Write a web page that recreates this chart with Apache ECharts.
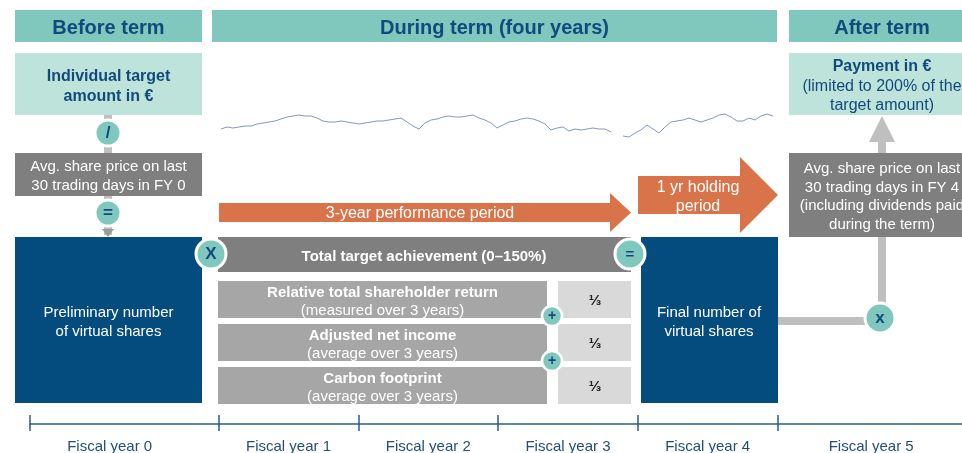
<!DOCTYPE html>
<html>
<head>
<meta charset="utf-8">
<script src="https://cdn.jsdelivr.net/npm/echarts@6/dist/echarts.min.js"></script>
<style>html,body{margin:0;padding:0;background:#fff}#c{width:962px;height:453px}</style>
</head>
<body>
<div id="c"></div>
<script>
// ---- content / data ----
const phaseTitles = ['Before term', 'During term (four years)', 'After term'];
const fiscalYearLabels = ['Fiscal year 0', 'Fiscal year 1', 'Fiscal year 2', 'Fiscal year 3', 'Fiscal year 4', 'Fiscal year 5'];
const fiscalYearStarts = [-0.35, 1, 2, 3, 4, 5];
const fiscalYearLabelAt = [0.22, 1.5, 2.5, 3.5, 4.5, 5.67];
const sharePrice = [
  21,23,22,23,24,24,26,27,28,29,
  31,33,34,35,34,34,32,29,28,28,
  29,28,27,26,27,28,29,29,30,31,
  32,28,24,21,27,30,31,33,34,33,
  33,34,35,32,30,27,22,25,28,29,
  31,32,31,29,26,20,22,23,19,21,
  20,21,22,21,21,18,null,14,13,17,
  20,25,21,17,23,28,29,30,32,30,
  28,30,32,35,36,33,29,29,32,30,
  34,36,34
];
const targetAmountText = 'Individual target\namount in €';
const startPriceText = 'Avg. share price on last\n30 trading days in FY 0';
const prelimSharesText = 'Preliminary number\nof virtual shares';
const performancePeriodText = '3-year performance period';
const holdingPeriodText = '1 yr holding\nperiod';
const totalAchievementText = 'Total target achievement (0–150%)';
const criteria = ['Relative total shareholder return', 'Adjusted net income', 'Carbon footprint'];
const criteriaNotes = ['(measured over 3 years)', '(average over 3 years)', '(average over 3 years)'];
const criteriaWeights = ['⅓', '⅓', '⅓'];
const finalSharesText = 'Final number of\nvirtual shares';
const endPriceText = 'Avg. share price on last\n30 trading days in FY 4\n(including dividends paid\nduring the term)';
const paymentTitle = 'Payment in €';
const paymentNote = '(limited to 200% of the\ntarget amount)';

// ---- styles ----
const FONT = '"Liberation Sans", Arial, "DejaVu Sans", sans-serif';
const NAVY = '#134A7C';
const TEAL = '#80C7BE';
const LTEAL = '#BDE3DA';
const GRAY = '#7F7F7F';
const MGRAY = '#A6A6A6';
const LGRAY = '#D9D9D9';
const CONN = '#BFBFBF';
const BLUE = '#034C7D';
const ORANGE = '#D9744A';
const AXIS = '#2A5D8C';
const DY = 1.5; // text baseline nudge

function rect(x, y, w, h, fill, z) {
  return {type: 'rect', silent: true, z: z || 2, shape: {x: x, y: y, width: w, height: h}, style: {fill: fill}};
}
function txt(x, y, text, size, color, bold, lh, z) {
  return {type: 'text', silent: true, z: z || 5, x: x, y: y + DY,
    style: {text: text, fill: color, fontSize: size, fontFamily: FONT, fontWeight: bold ? 'bold' : 'normal',
      align: 'center', verticalAlign: 'middle', textAlign: 'center', textVerticalAlign: 'middle', lineHeight: lh || size * 1.2}};
}
function circ(cx, cy, r, label, size, bw) {
  return [
    {type: 'circle', silent: true, z: 4, shape: {cx: cx, cy: cy, r: r}, style: {fill: TEAL, stroke: '#fff', lineWidth: bw || 3}},
    txt(cx, cy - DY + 0.5, label, size, NAVY, true, size, 6)
  ];
}
function poly(points, fill, z) {
  return {type: 'polygon', silent: true, z: z || 2, shape: {points: points}, style: {fill: fill}};
}

const els = [];
// headers
els.push(rect(15, 10, 187, 32, TEAL), txt(108.5, 26.5, phaseTitles[0], 20, NAVY, true));
els.push(rect(212, 10, 565, 32, TEAL), txt(494.5, 26.5, phaseTitles[1], 20, NAVY, true));
els.push(rect(789, 10, 185, 32, TEAL), txt(882, 26.5, phaseTitles[2], 20, NAVY, true));

// before term column
els.push(rect(104, 115, 8, 120, CONN, 1));
els.push(rect(15, 53, 187, 62, LTEAL), txt(108.5, 85, targetAmountText, 16, NAVY, true, 20));
els.push(rect(15, 153, 187, 43, GRAY), txt(108.5, 174.5, startPriceText, 15, '#fff', false, 19));
els.push(poly([[102, 229], [114, 229], [108, 237]], '#9A9A9A', 3));
els.push(...circ(108, 133, 13, '/', 17));
els.push(...circ(108, 213, 13, '=', 17));
els.push(rect(15, 237, 187, 166, BLUE), txt(108.5, 320.5, prelimSharesText, 15, '#fff', false, 19));

// arrows
els.push(poly([[219, 203], [610, 203], [610, 193], [631, 212.5], [610, 232], [610, 222], [219, 222]], ORANGE));
els.push(txt(420, 212.5, performancePeriodText, 16, '#fff', false));
els.push(poly([[638, 176], [740, 176], [740, 157], [778, 195], [740, 233], [740, 214], [638, 214]], ORANGE));
els.push(txt(698, 196, holdingPeriodText, 16, '#fff', false, 19));

// total target achievement
els.push(rect(218, 237, 413, 35, GRAY), txt(424, 255, totalAchievementText, 15, '#fff', true));
const rowTops = [281, 324, 367];
criteria.forEach(function (c, i) {
  const t = rowTops[i];
  els.push(rect(218, t, 329, 37, MGRAY));
  els.push(txt(382.5, t + 10, c, 15, '#fff', true));
  els.push(txt(382.5, t + 28, criteriaNotes[i], 15, '#fff', false));
  els.push(rect(558, t, 73, 37, LGRAY));
  els.push(txt(595, t + 18.5, criteriaWeights[i], 15, '#222', true));
});
els.push(...circ(211, 254, 15, 'X', 17));
els.push(...circ(630, 254, 15, '=', 15));
els.push(...circ(552, 316, 10, '+', 14, 2.5));
els.push(...circ(552, 361, 10, '+', 14, 2.5));

// final shares
els.push(rect(641, 237, 137, 166, BLUE), txt(709, 321, finalSharesText, 15, '#fff', false, 19));

// after term column
els.push(rect(778, 317, 95, 8, CONN, 1));
els.push(rect(878, 140, 8, 170, CONN, 1));
els.push(poly([[869, 142], [895, 142], [882, 116]], CONN, 1));
els.push(rect(789, 153, 185, 84, GRAY), txt(882, 195.5, endPriceText, 15, '#fff', false, 18.5));
els.push(...circ(880, 318, 15, 'x', 17));
els.push(rect(789, 53, 185, 62, LTEAL));
els.push(txt(882, 65, paymentTitle, 16, NAVY, true));
els.push(txt(882, 95, paymentNote, 16, NAVY, false, 19));

const chart = echarts.init(document.getElementById('c'), null, {renderer: 'canvas'});
chart.setOption({
  animation: false,
  backgroundColor: '#fff',
  grid: [
    {left: 30, right: 0, top: 380, bottom: 29, containLabel: false, outerBoundsMode: 'none'},
    {left: 221, width: 552, top: 100, height: 50, containLabel: false, outerBoundsMode: 'none'}
  ],
  xAxis: [
    {gridIndex: 0, type: 'value', min: -0.35, max: 6.32, position: 'bottom',
      axisLine: {show: true, lineStyle: {color: AXIS, width: 1.5}},
      axisTick: {show: true, inside: false, length: 7, customValues: fiscalYearStarts, lineStyle: {color: AXIS, width: 1.5}},
      axisLabel: {show: true, customValues: fiscalYearLabelAt, margin: 15, color: '#1F4E79', fontSize: 15, fontFamily: FONT,
        formatter: function (v) {
          let best = 0;
          fiscalYearLabelAt.forEach(function (p, i) { if (Math.abs(p - v) < Math.abs(fiscalYearLabelAt[best] - v)) best = i; });
          return fiscalYearLabels[best];
        }},
      splitLine: {show: false}},
    {gridIndex: 0, type: 'value', min: -0.35, max: 6.32, position: 'bottom',
      axisLine: {show: false},
      axisTick: {show: true, inside: true, length: 9, customValues: fiscalYearStarts, lineStyle: {color: AXIS, width: 1.5}},
      axisLabel: {show: false}, splitLine: {show: false}},
    {gridIndex: 1, type: 'category', data: sharePrice.map(function (_, i) { return i; }), boundaryGap: false, show: false}
  ],
  yAxis: [
    {gridIndex: 0, type: 'value', min: 0, max: 1, show: false},
    {gridIndex: 1, type: 'value', min: 0, max: 50, show: false}
  ],
  series: [
    {type: 'line', xAxisIndex: 0, yAxisIndex: 0, data: [], silent: true},
    {type: 'line', xAxisIndex: 2, yAxisIndex: 1, data: sharePrice, symbol: 'none', showSymbol: false, silent: true,
      connectNulls: false, lineStyle: {color: '#8299BE', width: 1}}
  ],
  graphic: {elements: els}
});
</script>
</body>
</html>
